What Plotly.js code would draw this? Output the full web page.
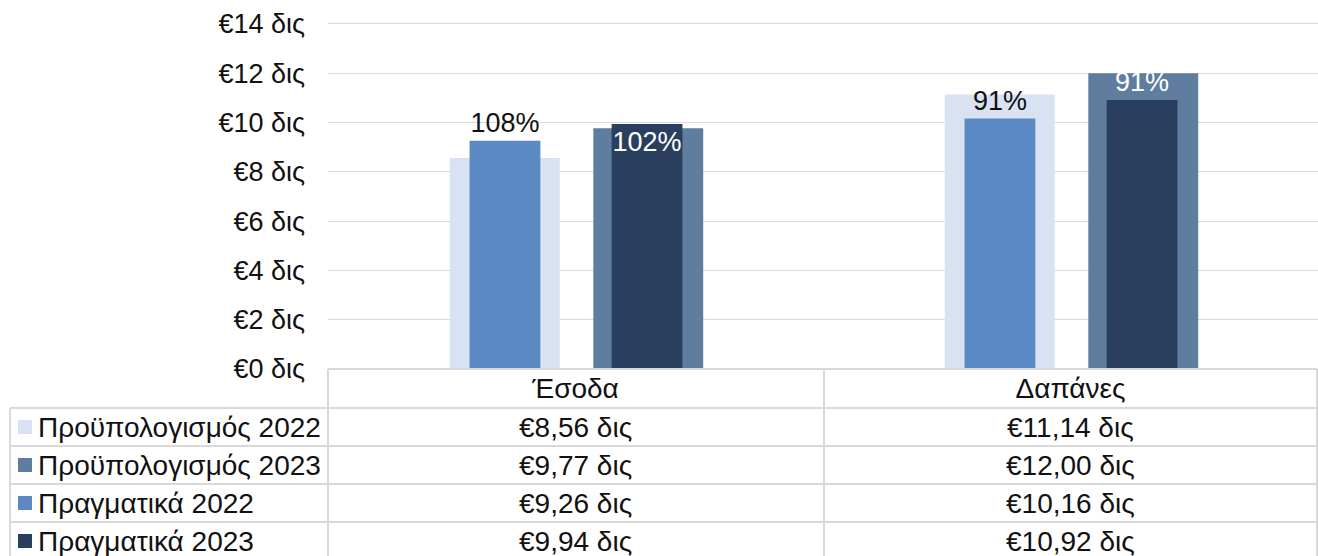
<!DOCTYPE html>
<html><head><meta charset="utf-8">
<script src="https://cdn.plot.ly/plotly-3.0.1.min.js"></script>
<style>html,body{margin:0;padding:0;background:#fff}#chart{width:1318px;height:556px}</style>
</head><body><div id="chart"></div>
<script>
// ---- data ----
const categories = ['Έσοδα', 'Δαπάνες'];
const seriesNames = ['Προϋπολογισμός 2022', 'Προϋπολογισμός 2023', 'Πραγματικά 2022', 'Πραγματικά 2023'];
const budget2022 = [8.56, 11.14];
const budget2023 = [9.77, 12.00];
const actual2022 = [9.26, 10.16];
const actual2023 = [9.94, 10.92];
const pctLabels2022 = ['108%', '91%'];
const pctLabels2023 = ['102%', '91%'];
const yTickVals = [0, 2, 4, 6, 8, 10, 12, 14];
const yTickText = ['€0 δις', '€2 δις', '€4 δις', '€6 δις', '€8 δις', '€10 δις', '€12 δις', '€14 δις'];

// ---- style ----
const colors = ['#D9E2F3', '#5F7D9E', '#5A89C4', '#2A3F5D'];
const FONT = 'Arial, "Liberation Sans", sans-serif';
const FS = 27;
const TFS = 28;
const W = 1318, H = 556, L = 328, R = 0, T = 22, B = 187;
const yMax = 14.08;
const plotW = W - L - R, plotH = H - T - B;
const axisY = H - B;
const px2x = px => (px - L) / plotW;
const py2y = py => (axisY - py) / plotH;
const lineColor = '#D9D9D9';
const rowTop = 408, rowH = 38;
const seriesValues = [budget2022, budget2023, actual2022, actual2023];
const fmt = v => '€' + v.toFixed(2).replace('.', ',') + ' δις';

const wide = 0.222, narrow = 0.143;
const traces = [
  {type: 'bar', name: seriesNames[0], x: categories, y: budget2022, width: wide, offset: -0.254,
   marker: {color: colors[0]}, showlegend: false, hoverinfo: 'skip'},
  {type: 'bar', name: seriesNames[1], x: categories, y: budget2023, width: wide, offset: 0.036,
   marker: {color: colors[1]}, showlegend: false, hoverinfo: 'skip'},
  {type: 'bar', name: seriesNames[2], x: categories, y: actual2022, width: narrow, offset: -0.214,
   marker: {color: colors[2]}, showlegend: false, hoverinfo: 'skip',
   text: pctLabels2022, textposition: 'outside', textangle: 0, constraintext: 'none', cliponaxis: false,
   outsidetextfont: {family: FONT, size: FS, color: '#111'}},
  {type: 'bar', name: seriesNames[3], x: categories, y: actual2023, width: narrow, offset: 0.073,
   marker: {color: colors[3]}, showlegend: false, hoverinfo: 'skip',
   text: pctLabels2023, textposition: ['inside', 'outside'], textangle: 0, insidetextanchor: 'end', constraintext: 'none', cliponaxis: false,
   insidetextfont: {family: FONT, size: FS, color: '#fff'},
   outsidetextfont: {family: FONT, size: FS, color: '#fff'}}
];

const shapes = [];
const hline = (py, x0, x1) => shapes.push({type: 'line', xref: 'paper', yref: 'paper',
  x0: px2x(x0), x1: px2x(x1), y0: py2y(py), y1: py2y(py), line: {color: lineColor, width: 2}});
const vline = (px, y0, y1) => shapes.push({type: 'line', xref: 'paper', yref: 'paper',
  x0: px2x(px), x1: px2x(px), y0: py2y(y0), y1: py2y(y1), line: {color: lineColor, width: 2}});
hline(axisY, L, W - 1);
for (let i = 0; i < 4; i++) hline(rowTop + i * rowH, 10, W - 1);
vline(10, rowTop, H + 5);
vline(L, axisY, H + 5);
vline(824, axisY, H + 5);
vline(W - 1, axisY, H + 5);

const annotations = [];
seriesNames.forEach((name, s) => {
  const cy = rowTop + s * rowH + rowH / 2;
  shapes.push({type: 'rect', xref: 'paper', yref: 'paper', x0: px2x(18), x1: px2x(32),
    y0: py2y(cy + 7), y1: py2y(cy - 7), fillcolor: colors[s], line: {width: 0}});
  annotations.push({xref: 'paper', yref: 'paper', x: px2x(36), y: py2y(cy), xanchor: 'left', yanchor: 'middle',
    text: name, showarrow: false, font: {family: FONT, size: TFS, color: '#111'}});
  categories.forEach((c, ci) => {
    annotations.push({xref: 'x', yref: 'paper', x: c, y: py2y(cy), xanchor: 'center', yanchor: 'middle',
      text: fmt(seriesValues[s][ci]), showarrow: false, font: {family: FONT, size: TFS, color: '#111'}});
  });
});

const layout = {
  width: W, height: H,
  margin: {l: L, r: R, t: T, b: B, pad: 0},
  paper_bgcolor: '#fff', plot_bgcolor: '#fff',
  barmode: 'overlay',
  font: {family: FONT, size: FS, color: '#111'},
  xaxis: {type: 'category', categoryorder: 'array', categoryarray: categories, range: [-0.5, 1.5],
    showgrid: false, zeroline: false, showline: false, ticks: '', ticklabelstandoff: 0,
    tickfont: {family: FONT, size: TFS, color: '#111'}, fixedrange: true},
  yaxis: {range: [0, yMax], tickvals: yTickVals, ticktext: yTickText, showgrid: true, gridcolor: lineColor, gridwidth: 1,
    zeroline: false, showline: false, ticks: '', ticklabelstandoff: 22,
    tickfont: {family: FONT, size: FS, color: '#111'}, fixedrange: true},
  shapes: shapes,
  annotations: annotations,
  showlegend: false
};

Plotly.newPlot('chart', traces, layout, {displayModeBar: false, staticPlot: true});
</script>
</body></html>
